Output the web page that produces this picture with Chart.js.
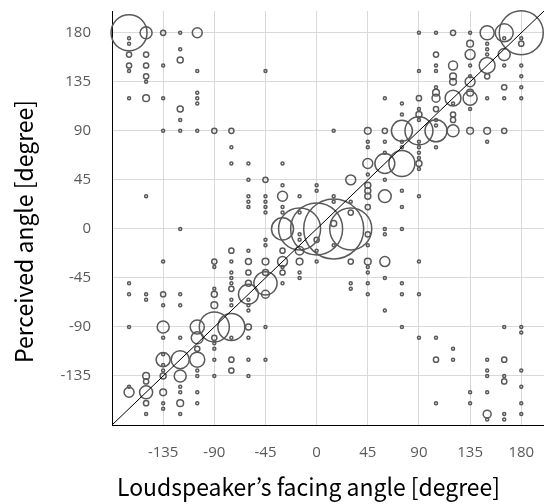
<!DOCTYPE html>
<html>
<head>
<meta charset="utf-8">
<script src="https://cdn.jsdelivr.net/npm/chart.js@4"></script>
<style>
  html, body { margin: 0; padding: 0; background: #ffffff; }
  canvas { display: block; }
</style>
</head>
<body>
<canvas id="c" width="544" height="504"></canvas>
<script>
// ---- data ----
const facingAngles = [-165,-150,-135,-120,-105,-90,-75,-60,-45,-30,-15,0,15,30,45,60,75,90,105,120,135,150,165,180];

const perceivedAngles = [
  [180,175,170,160,150,145,120,-50,-60,-90,-145,-150],
  [180,160,150,140,135,120,30,-60,-65,-135,-140,-150,-160,-170],
  [180,150,120,90,-30,-60,-70,-90,-100,-115,-120,-125,-130,-135,-150,-160,-165],
  [180,165,155,110,100,90,0,-60,-70,-100,-120,-135,-145,-150,-160,-170],
  [180,145,125,120,115,90,-90,-100,-110,-120,-130,-135,-150,-160],
  [90,-30,-35,-55,-60,-70,-90,-100,-105,-110,-120,-135],
  [90,75,60,-20,-30,-40,-45,-50,-55,-65,-70,-90,-100,-120,-130],
  [60,45,30,25,20,-20,-30,-40,-50,-60,-65,-70,-75,-90,-100,-120,-135],
  [145,45,30,25,20,15,-10,-15,-30,-40,-50,-60,-90,-120],
  [60,40,30,20,15,0,-20,-30,-35,-40,-50],
  [30,15,0,-5,-10,-20,-30,-40,-45],
  [40,35,0,-10,-20,-30],
  [90,30,25,5,0,-15],
  [45,25,15,0,-30,-50,-55],
  [90,80,75,60,50,40,35,30,20,-5,-15,-30,-35,-40,-50,-60],
  [120,90,80,70,60,45,30,0,-5,-30,-45,-75],
  [115,105,90,80,75,60,35,20,0,-50,-60,-90],
  [180,145,120,110,105,100,90,80,75,70,65,60,55,30,-30,-60,-100],
  [180,160,150,145,130,125,120,110,100,95,90,75,-100,-120,-160],
  [180,150,140,135,120,115,105,100,90,-110,-120],
  [180,170,160,150,140,135,125,120,110,90,-150,-160],
  [180,170,165,160,150,140,120,90,80,-120,-130,-135,-150,-170,-175],
  [180,175,160,150,130,120,90,-90,-120,-135,-140,-170,-175],
  [180,175,170,150,140,130,120,-90,-95,-130,-145,-160,-170]
];

const responseCounts = [
  [144,1,1,3,3,1,1,1,1,1,1,11],
  [16,3,3,3,1,5,1,1,1,5,3,19,3,1],
  [3,1,1,1,1,3,1,16,1,1,22,1,1,4,5,1,1],
  [1,1,4,4,1,1,1,1,1,1,36,16,1,1,5,1],
  [11,1,1,1,1,1,22,16,3,25,1,1,1,1],
  [3,3,1,1,4,5,100,3,1,1,1,1],
  [3,1,1,3,1,1,1,1,3,1,1,81,1,3,3],
  [1,1,1,1,1,1,4,3,4,44,1,1,1,4,1,1,1],
  [1,3,1,1,1,1,1,1,5,4,60,7,1,1],
  [1,1,11,1,1,54,3,11,1,3,1],
  [1,1,196,1,1,8,5,1,1],
  [1,1,300,3,1,1],
  [1,1,1,4,400,1],
  [11,1,3,196,3,1,1],
  [5,1,1,11,1,4,4,4,3,3,1,5,1,1,1,1],
  [1,3,1,1,44,1,18,1,1,11,1,1],
  [1,1,49,1,1,75,1,1,1,1,1,1],
  [1,1,3,1,4,1,87,1,1,1,1,4,1,1,1,1,1],
  [1,3,1,1,1,5,7,3,1,1,54,1,1,3,1],
  [3,9,5,5,28,1,3,3,16,1,1],
  [1,5,11,1,1,11,5,22,1,5,1,1],
  [22,1,1,1,28,3,1,5,1,1,1,1,1,7,1],
  [36,1,16,1,3,1,3,1,3,1,3,1,1],
  [215,1,3,1,1,1,1,1,1,1,1,1,1]
];

const tickValues = [-135,-90,-45,0,45,90,135,180];
const axisRange = [-180, 200];
const diagonalEnds = [-180, 200];

const xTitle = 'Loudspeaker\u2019s facing angle [degree]';
const yTitle = 'Perceived angle [degree]';

// ---- build chart data ----
const bubblePoints = [];
facingAngles.forEach((fx, i) => {
  perceivedAngles[i].forEach((py, j) => {
    const n = responseCounts[i][j];
    bubblePoints.push({ x: fx, y: py, r: 1.5 * Math.sqrt(n) });
  });
});
const diagonal = diagonalEnds.map(v => ({ x: v, y: v }));

const tickFont = { family: '"Open Sans", "Liberation Sans", sans-serif', size: 15 };

function drawFittedText(ctx, text, cx, cy, targetWidth, rot, size) {
  ctx.save();
  ctx.translate(cx, cy);
  ctx.rotate(rot);
  ctx.font = size + 'px "Noto Sans CJK JP", "Noto Sans", sans-serif';
  const w = ctx.measureText(text).width;
  ctx.scale(targetWidth / w, 1);
  ctx.fillStyle = '#000000';
  ctx.textAlign = 'center';
  ctx.textBaseline = 'alphabetic';
  ctx.fillText(text, 0, 0);
  ctx.restore();
}

const axisTitles = {
  id: 'axisTitles',
  afterDraw(chart) {
    const ctx = chart.ctx;
    drawFittedText(ctx, xTitle, 308.5, 495.5, 383, 0, 24);
    drawFittedText(ctx, yTitle, 33, 231.5, 263, -Math.PI / 2, 24);
  }
};

new Chart(document.getElementById('c'), {
  type: 'bubble',
  data: {
    datasets: [
      {
        type: 'bubble',
        data: bubblePoints,
        borderColor: '#595959',
        backgroundColor: 'rgba(0,0,0,0)',
        borderWidth: 1.5,
        clip: false,
        order: 2
      },
      {
        type: 'line',
        data: diagonal,
        borderColor: '#000000',
        borderWidth: 1,
        pointRadius: 0,
        fill: false,
        clip: false,
        order: 1
      }
    ]
  },
  options: {
    responsive: false,
    animation: false,
    devicePixelRatio: 1,
    layout: { autoPadding: false, padding: { top: 11, right: 0, left: 0, bottom: 0 } },
    plugins: {
      legend: { display: false },
      tooltip: { enabled: false },
      title: { display: false }
    },
    scales: {
      x: {
        type: 'linear',
        min: axisRange[0],
        max: axisRange[1],
        afterBuildTicks: s => { s.ticks = tickValues.map(v => ({ value: v })); },
        afterFit: s => { s.height = 79; s.paddingRight = 0; s.paddingLeft = 0; },
        grid: { color: '#d9d9d9', lineWidth: 1, drawTicks: false },
        border: { display: true, color: '#000000', width: 1 },
        ticks: { color: '#595959', font: tickFont, padding: 19, maxRotation: 0, autoSkip: false }
      },
      y: {
        type: 'linear',
        min: axisRange[0],
        max: axisRange[1],
        afterBuildTicks: s => { s.ticks = tickValues.map(v => ({ value: v })); },
        afterFit: s => { s.width = 112; s.paddingTop = 0; s.paddingBottom = 0; },
        grid: { color: '#d9d9d9', lineWidth: 1, drawTicks: false },
        border: { display: true, color: '#000000', width: 1 },
        ticks: { color: '#595959', font: tickFont, padding: 21, autoSkip: false }
      }
    }
  },
  plugins: [axisTitles]
});
</script>
</body>
</html>
